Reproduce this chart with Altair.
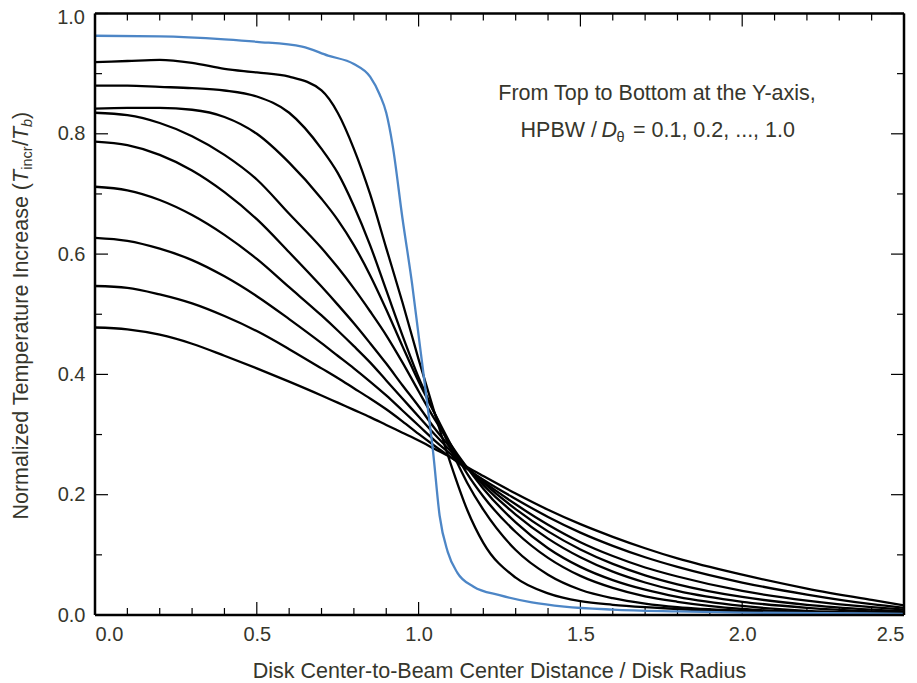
import altair as alt
import pandas as pd

FONT = "Liberation Sans"
TXT = "#36362c"
BLUE = "#4d86c6"

# ---------------- data ----------------
X_GRID = [0, 0.1, 0.2, 0.3, 0.4, 0.5, 0.6, 0.7, 0.75, 0.8, 0.85, 0.9, 0.95, 1.0,
          1.05, 1.1, 1.15, 1.2, 1.3, 1.4, 1.5, 1.6, 1.7, 1.8, 2.0, 2.2, 2.4, 2.5]

Y_02 = [0.919, 0.921, 0.923, 0.918, 0.908, 0.902, 0.895, 0.872, 0.835, 0.775, 0.700, 0.610, 0.520, 0.425,
        0.335, 0.250, 0.175, 0.120, 0.062, 0.036, 0.023, 0.017, 0.013, 0.010, 0.006, 0.004, 0.002, 0.002]
Y_03 = [0.880, 0.880, 0.878, 0.876, 0.872, 0.862, 0.835, 0.775, 0.735, 0.680, 0.615, 0.540, 0.465, 0.395,
        0.335, 0.275, 0.220, 0.175, 0.108, 0.067, 0.042, 0.028, 0.019, 0.013, 0.007, 0.004, 0.002, 0.002]
Y_04 = [0.842, 0.843, 0.843, 0.840, 0.828, 0.800, 0.752, 0.692, 0.657, 0.615, 0.565, 0.508, 0.447, 0.388,
        0.335, 0.283, 0.235, 0.197, 0.138, 0.095, 0.065, 0.045, 0.031, 0.022, 0.010, 0.005, 0.003, 0.002]
Y_05 = [0.835, 0.831, 0.818, 0.796, 0.765, 0.724, 0.667, 0.610, 0.578, 0.543, 0.505, 0.465, 0.420, 0.372,
        0.325, 0.283, 0.245, 0.210, 0.154, 0.111, 0.080, 0.058, 0.042, 0.030, 0.015, 0.007, 0.004, 0.003]
Y_06 = [0.787, 0.781, 0.765, 0.739, 0.703, 0.658, 0.603, 0.546, 0.516, 0.485, 0.452, 0.418, 0.382, 0.347,
        0.310, 0.277, 0.245, 0.216, 0.167, 0.127, 0.096, 0.072, 0.054, 0.040, 0.022, 0.012, 0.006, 0.004]
Y_07 = [0.712, 0.706, 0.690, 0.665, 0.632, 0.592, 0.545, 0.498, 0.473, 0.447, 0.420, 0.390, 0.360, 0.330,
        0.300, 0.272, 0.245, 0.220, 0.176, 0.139, 0.109, 0.085, 0.066, 0.051, 0.030, 0.017, 0.009, 0.006]
Y_08 = [0.627, 0.622, 0.609, 0.590, 0.563, 0.530, 0.492, 0.452, 0.431, 0.410, 0.388, 0.365, 0.340, 0.315,
        0.290, 0.267, 0.244, 0.222, 0.184, 0.150, 0.121, 0.098, 0.079, 0.064, 0.040, 0.024, 0.013, 0.009]
Y_09 = [0.547, 0.544, 0.533, 0.518, 0.497, 0.472, 0.442, 0.410, 0.394, 0.377, 0.360, 0.342, 0.322, 0.301,
        0.281, 0.262, 0.243, 0.225, 0.193, 0.163, 0.137, 0.115, 0.096, 0.080, 0.054, 0.034, 0.018, 0.012]
Y_10 = [0.478, 0.475, 0.466, 0.451, 0.431, 0.410, 0.388, 0.365, 0.353, 0.341, 0.329, 0.316, 0.303, 0.290,
        0.276, 0.262, 0.246, 0.231, 0.202, 0.175, 0.151, 0.130, 0.111, 0.094, 0.067, 0.044, 0.025, 0.016]

BLUE_X = [0, 0.2, 0.4, 0.5, 0.64, 0.72, 0.8, 0.85, 0.88, 0.9, 0.92, 0.95, 0.98, 1.0, 1.02,
          1.045, 1.065, 1.09, 1.12, 1.17, 1.25, 1.35, 1.45, 1.6, 1.8, 2.0, 2.25, 2.5]
BLUE_Y = [0.963, 0.962, 0.957, 0.953, 0.945, 0.930, 0.916, 0.895, 0.865, 0.835, 0.78, 0.66, 0.55, 0.465,
          0.38, 0.27, 0.165, 0.105, 0.070, 0.047, 0.033, 0.021, 0.014, 0.009, 0.006, 0.004, 0.003, 0.002]

X_MAJOR = [0.0, 0.5, 1.0, 1.5, 2.0, 2.5]
X_MINOR = [0.1, 0.2, 0.3, 0.4, 0.6, 0.7, 0.8, 0.9, 1.1, 1.2, 1.3, 1.4, 1.6, 1.7, 1.8, 1.9, 2.1, 2.2, 2.3, 2.4]
Y_MAJOR = [0.0, 0.2, 0.4, 0.6, 0.8, 1.0]
Y_MINOR = [0.1, 0.3, 0.5, 0.7, 0.9]

black_series = {"0.2": Y_02, "0.3": Y_03, "0.4": Y_04, "0.5": Y_05, "0.6": Y_06,
                "0.7": Y_07, "0.8": Y_08, "0.9": Y_09, "1.0": Y_10}

rows = []
for k, ys in black_series.items():
    for xv, yv in zip(X_GRID, ys):
        rows.append({"x": xv, "y": yv, "ratio": k})
black_df = pd.DataFrame(rows)
blue_df = pd.DataFrame({"x": BLUE_X, "y": BLUE_Y, "ratio": "0.1"})

# ---------------- layout ----------------
W, H = 809, 601.5
MAJ, MIN = 13, 7
TS = 21.5  # title / annotation font size

xscale = alt.Scale(domain=[0, 2.5], nice=False, zero=False)
yscale = alt.Scale(domain=[0, 1], nice=False, zero=False)
xaxis = alt.Axis(values=X_MAJOR, format=".1f", ticks=False, tickSize=0, domain=False, grid=False,
                 labelPadding=9, labelFontSize=20, labelFont=FONT, labelColor=TXT, title=None)
# the top label (1.0) is drawn separately so that it is not cut by the page edge
yaxis = alt.Axis(values=Y_MAJOR[:-1], format=".1f", ticks=False, tickSize=0, domain=False, grid=False,
                 labelPadding=10, labelFontSize=20, labelFont=FONT, labelColor=TXT, title=None)
X = lambda: alt.X("x:Q", scale=xscale, axis=xaxis)
Y = lambda: alt.Y("y:Q", scale=yscale, axis=yaxis)

black = alt.Chart(black_df).mark_line(interpolate="monotone", color="black", strokeWidth=2.3).encode(
    x=X(), y=Y(), detail="ratio:N")
blue = alt.Chart(blue_df).mark_line(interpolate="monotone", color=BLUE, strokeWidth=2.3).encode(
    x=X(), y=Y())

def xticks(vals, length):
    df = pd.DataFrame({"x": vals})
    bot = alt.Chart(df).mark_rule(color="black", strokeWidth=1.2).encode(
        x=X(), y=alt.value(H), y2=alt.value(H - length))
    top = alt.Chart(df).mark_rule(color="black", strokeWidth=1.2).encode(
        x=X(), y=alt.value(0), y2=alt.value(length))
    return [bot, top]

def yticks(vals, length):
    df = pd.DataFrame({"y": vals})
    left = alt.Chart(df).mark_rule(color="black", strokeWidth=1.2).encode(
        y=Y(), x=alt.value(0), x2=alt.value(length))
    right = alt.Chart(df).mark_rule(color="black", strokeWidth=1.2).encode(
        y=Y(), x=alt.value(W), x2=alt.value(W - length))
    return [left, right]

# plot frame (four sides)
one = pd.DataFrame({"k": [0]})
frame = [
    alt.Chart(one).mark_rule(color="black", strokeWidth=2.5).encode(
        x=alt.value(0), y=alt.value(0), y2=alt.value(H)),
    alt.Chart(one).mark_rule(color="black", strokeWidth=2.5).encode(
        x=alt.value(W), y=alt.value(0), y2=alt.value(H)),
    alt.Chart(one).mark_rule(color="black", strokeWidth=2.5).encode(
        y=alt.value(0), x=alt.value(0), x2=alt.value(W)),
    alt.Chart(one).mark_rule(color="black", strokeWidth=2.5).encode(
        y=alt.value(H), x=alt.value(0), x2=alt.value(W)),
]

def label(text, x, y, size=TS, align="left", angle=0, style="normal", baseline="alphabetic"):
    return alt.Chart(pd.DataFrame({"t": [text]})).mark_text(
        font=FONT, fontSize=size, color=TXT, align=align, angle=angle, fontStyle=style,
        baseline=baseline).encode(text="t:N", x=alt.value(x), y=alt.value(y))

texts = [
    label("1.0", -10, 10.0, size=20, align="right"),
    label("From Top to Bottom at the Y-axis,", 562, 86.5, align="center"),
    label("HPBW /", 502, 123.2, align="right"),
    label("D", 506.5, 123.2, style="italic"),
    label("θ", 521.5, 128.5, size=14.5),
    label("= 0.1, 0.2, ..., 1.0", 538, 123.2),
    label("Disk Center-to-Beam Center Distance / Disk Radius", W / 2, 664.5, align="center"),
    # rotated y title
    label("Normalized Temperature Increase (", -67.5, 169.5, align="right", angle=270),
    label("T", -67.5, 169.5, angle=270, style="italic"),
    label("incr", -63, 156.2, size=14.5, angle=270),
    label("/", -67.5, 132.6, angle=270),
    label("T", -67.5, 126.6, angle=270, style="italic"),
    label("b", -63, 113.6, size=14.5, angle=270, style="italic"),
    label(")", -67.5, 105.6, angle=270),
]

layers = (xticks(X_MAJOR, MAJ) + xticks(X_MINOR, MIN) + yticks(Y_MAJOR, MAJ) + yticks(Y_MINOR, MIN)
          + [black, blue] + frame + texts)

chart = alt.layer(*layers).properties(
    width=W, height=H, autosize="none", background="white",
    padding={"left": 87, "top": 5.5, "right": 5, "bottom": 68},
).configure_view(stroke=None)

chart.save("out.html", embed_options={"renderer": "svg", "actions": False})
